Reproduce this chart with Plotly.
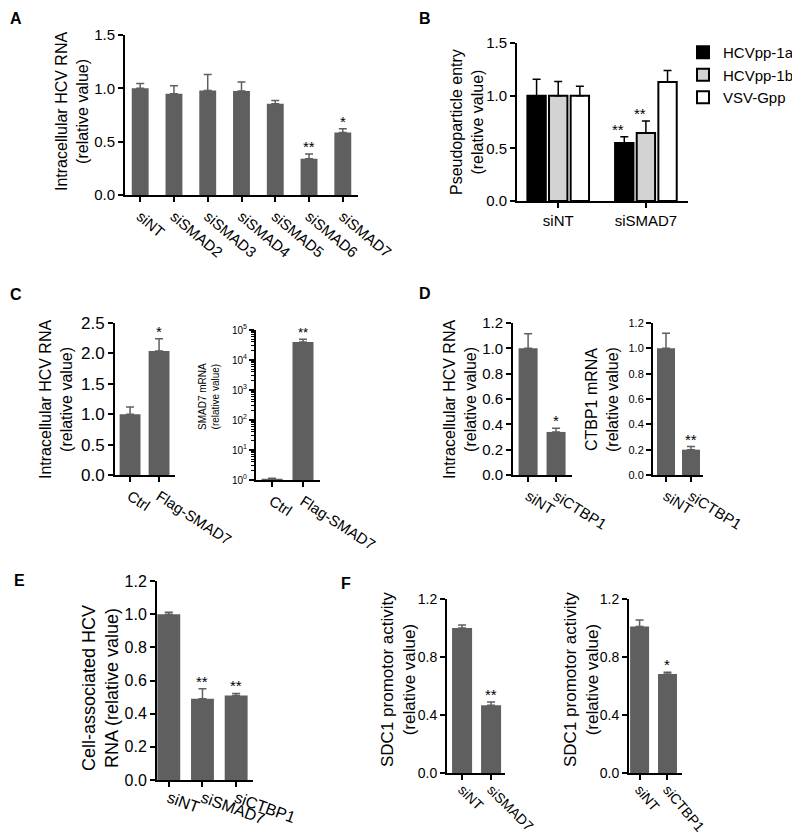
import math
import plotly.graph_objects as go

# page body keeps an 8 px default margin: lay out in screen pixels and
# convert to figure pixels.
OFF = 8
W, H = 800 - OFF, 834 - OFF
FONT = "Arial, Liberation Sans, sans-serif"
GRAY = "#5f5f5f"

# ---------------- data ----------------
cats_A = ["siNT", "siSMAD2", "siSMAD3", "siSMAD4", "siSMAD5", "siSMAD6", "siSMAD7"]
vals_A = [1.00, 0.95, 0.98, 0.975, 0.855, 0.34, 0.585]
err_A = [0.045, 0.075, 0.15, 0.085, 0.03, 0.045, 0.035]
stars_A = ["", "", "", "", "", "**", "*"]

groups_B = ["siNT", "siSMAD7"]
series_B = ["HCVpp-1a", "HCVpp-1b", "VSV-Gpp"]
vals_B_1a = [1.00, 0.55]
err_B_1a = [0.155, 0.06]
vals_B_1b = [1.00, 0.645]
err_B_1b = [0.135, 0.115]
vals_B_vsv = [1.00, 1.13]
err_B_vsv = [0.09, 0.11]
stars_B_1a = ["", "**"]
stars_B_1b = ["", "**"]
stars_B_vsv = ["", ""]

cats_C = ["Ctrl", "Flag-SMAD7"]
vals_C1 = [1.00, 2.04]
err_C1 = [0.12, 0.20]
stars_C1 = ["", "*"]
vals_C2 = [1.1, 40000]
err_C2 = [0.05, 9000]
stars_C2 = ["", "**"]

cats_D = ["siNT", "siCTBP1"]
vals_D1 = [1.00, 0.34]
err_D1 = [0.115, 0.03]
stars_D1 = ["", "*"]
vals_D2 = [1.00, 0.20]
err_D2 = [0.12, 0.025]
stars_D2 = ["", "**"]

cats_E = ["siNT", "siSMAD7", "siCTBP1"]
vals_E = [1.00, 0.49, 0.51]
err_E = [0.012, 0.06, 0.012]
stars_E = ["", "**", "**"]

cats_F1 = ["siNT", "siSMAD7"]
vals_F1 = [1.00, 0.467]
err_F1 = [0.02, 0.023]
stars_F1 = ["", "**"]
cats_F2 = ["siNT", "siCTBP1"]
vals_F2 = [1.01, 0.683]
err_F2 = [0.045, 0.012]
stars_F2 = ["", "*"]

# ---------------- helpers ----------------
fig = go.Figure()
layout = dict(width=W, height=H,
              margin=dict(l=0, r=0, t=0, b=0, pad=0, autoexpand=False),
              paper_bgcolor="white", plot_bgcolor="white",
              font=dict(family=FONT, color="black"),
              showlegend=True, annotations=[], barmode="group")
ann = layout["annotations"]


def fx(x):
    return (x - OFF) / W


def fy(y):
    return 1 - (y - OFF) / H


def px_x(x0, x1):
    return [fx(x0), fx(x1)]


def px_y(ytop, ybot):
    return [fy(ybot), fy(ytop)]


def axes(n, xdom, xrange, ydom, yrange, xfs, yfs, tickangle, ytickvals=None,
         yticktext=None, ytype="linear", yfmt=".1f", minor=None, xstand=0):
    sx = "" if n == 1 else str(n)
    xa = dict(domain=xdom, range=xrange, anchor="y" + sx, showline=True,
              linecolor="black", linewidth=2, ticks="outside", ticklen=5,
              tickwidth=1.5, tickcolor="black", tickangle=tickangle,
              tickfont=dict(size=xfs, family=FONT), showgrid=False,
              zeroline=False, fixedrange=True, automargin=False,
              ticklabelstandoff=xstand)
    ya = dict(domain=ydom, range=yrange, anchor="x" + sx, showline=True,
              linecolor="black", linewidth=2, ticks="outside", ticklen=5,
              tickwidth=1.5, tickcolor="black",
              tickfont=dict(size=yfs, family=FONT), showgrid=False,
              zeroline=False, type=ytype, fixedrange=True, automargin=False)
    if ytickvals is not None:
        ya["tickvals"] = ytickvals
        if yticktext is not None:
            ya["ticktext"] = yticktext
        else:
            ya["tickformat"] = yfmt
    if minor is not None:
        ya["minor"] = minor
    layout["xaxis" + sx] = xa
    layout["yaxis" + sx] = ya


def bars(n, cats, vals, errs, width, color=GRAY, line=None, name=None,
         showlegend=False, errcolor=GRAY, offsetgroup=None):
    sx = "" if n == 1 else str(n)
    kw = {}
    if width is not None:
        kw["width"] = width
    fig.add_trace(go.Bar(
        x=cats, y=vals, name=name, showlegend=showlegend,
        marker=dict(color=color, line=line or dict(width=0)),
        offsetgroup=offsetgroup,
        error_y=dict(type="data", symmetric=False, array=errs,
                     arrayminus=[0] * len(vals), color=errcolor,
                     thickness=1.5, width=4),
        xaxis="x" + sx, yaxis="y" + sx, hoverinfo="skip", **kw))


def stars(n, cats, vals, errs, marks, size=15, xoff=None, xshift=0, log=False):
    sx = "" if n == 1 else str(n)
    for i, (c, v, e, m) in enumerate(zip(cats, vals, errs, marks)):
        if not m:
            continue
        top = v + e
        if log:
            top = math.log10(top)
        ann.append(dict(x=(i + xoff) if xoff is not None else c, y=top,
                        xref="x" + sx, yref="y" + sx, text=m, showarrow=False,
                        yanchor="bottom", xanchor="center", yshift=-3,
                        xshift=xshift,
                        font=dict(size=size, family=FONT, color="black")))


def ytitle(text, xc, yc, size):
    ann.append(dict(x=fx(xc), y=fy(yc), xref="paper", yref="paper",
                    text=text, showarrow=False, textangle=-90,
                    xanchor="center", yanchor="middle",
                    font=dict(size=size, family=FONT, color="black")))


def label(text, x, y):
    ann.append(dict(x=fx(max(x, OFF)), y=fy(max(y, OFF)), xref="paper",
                    yref="paper", text="<b>" + text + "</b>", showarrow=False,
                    xanchor="left", yanchor="top",
                    font=dict(size=16, family=FONT, color="black")))


lin12 = [0, 0.2, 0.4, 0.6, 0.8, 1.0, 1.2]

# ---- A ----
axes(1, px_x(125, 358), [-0.45, 6.45], px_y(35, 195), [0, 1.5], 15, 15, 40,
     ytickvals=[0, 0.5, 1.0, 1.5])
bars(1, cats_A, vals_A, err_A, 0.5)
stars(1, cats_A, vals_A, err_A, stars_A)
ytitle("Intracellular HCV RNA<br>(relative value)", 72, 112, 16)
label("A", 8, 8)

# ---- B ----
bargap_B = 0.26
layout["bargap"] = bargap_B
layout["bargroupgap"] = 0.15
axes(2, px_x(517, 688), [-0.47, 1.48], px_y(43, 201), [0, 1.5], 15, 15, 0,
     ytickvals=[0, 0.5, 1.0, 1.5])
b_vals = [vals_B_1a, vals_B_1b, vals_B_vsv]
b_errs = [err_B_1a, err_B_1b, err_B_vsv]
b_stars = [stars_B_1a, stars_B_1b, stars_B_vsv]
b_cols = ["black", "#d3d3d3", "white"]
for k in range(3):
    bars(2, groups_B, b_vals[k], b_errs[k], None, color=b_cols[k],
         line=dict(color="black", width=2), name=series_B[k],
         showlegend=True, errcolor="black", offsetgroup=str(k))
    stars(2, groups_B, b_vals[k], b_errs[k], b_stars[k],
          xoff=(k - 1) * (1 - bargap_B) / 3, xshift=-6)
ytitle("Pseudoparticle entry<br>(relative value)", 467, 122, 16)
label("B", 417, 8)

# ---- C ----
axes(3, px_x(115, 175), [-0.52, 1.55], px_y(323, 475), [0, 2.5], 15, 17, 33,
     ytickvals=[0, 0.5, 1.0, 1.5, 2.0, 2.5])
bars(3, cats_C, vals_C1, err_C1, 0.72)
stars(3, cats_C, vals_C1, err_C1, stars_C1)
ytitle("Intracellular HCV RNA<br>(relative value)", 56, 400, 16)

axes(4, px_x(256, 320), [-0.52, 1.55], px_y(330, 480), [0, 5], 15, 10, 33,
     ytickvals=[1, 10, 100, 1000, 10000, 100000],
     yticktext=["10<sup>0</sup>", "10<sup>1</sup>", "10<sup>2</sup>",
                "10<sup>3</sup>", "10<sup>4</sup>", "10<sup>5</sup>"],
     ytype="log",
     minor=dict(ticks="outside", ticklen=3, tickwidth=1, tickcolor="black",
                dtick="D1", showgrid=False))
bars(4, cats_C, vals_C2, err_C2, 0.68)
stars(4, cats_C, vals_C2, err_C2, stars_C2, log=True, size=13)
ytitle("SMAD7 mRNA<br>(relative value)", 209, 397, 10)
label("C", 8, 284)

# ---- D ----
axes(5, px_x(513, 572), [-0.54, 1.57], px_y(323, 475), [0, 1.2], 15, 15, 32,
     ytickvals=lin12)
bars(5, cats_D, vals_D1, err_D1, 0.68)
stars(5, cats_D, vals_D1, err_D1, stars_D1)
ytitle("Intracellular HCV RNA<br>(relative value)", 460, 400, 16)

axes(6, px_x(653, 703), [-0.52, 1.48], px_y(323, 475), [0, 1.2], 15, 11, 32,
     ytickvals=lin12)
bars(6, cats_D, vals_D2, err_D2, 0.72)
stars(6, cats_D, vals_D2, err_D2, stars_D2)
ytitle("CTBP1 mRNA<br>(relative value)", 602, 400, 16)
label("D", 417, 283)

# ---- E ----
axes(7, px_x(157, 253), [-0.35, 2.5], px_y(581, 780), [0, 1.2], 16, 16, 20,
     ytickvals=lin12, xstand=-4)
bars(7, cats_E, vals_E, err_E, 0.68)
stars(7, cats_E, vals_E, err_E, stars_E)
ytitle("Cell-associated HCV<br>RNA (relative value)", 100, 688, 18)
label("E", 12, 570)

# ---- F ----
axes(8, px_x(447, 505), [-0.52, 1.48], px_y(599, 773), [0, 1.2], 14, 14, 45,
     ytickvals=[0, 0.4, 0.8, 1.2], xstand=-4)
bars(8, cats_F1, vals_F1, err_F1, 0.69)
stars(8, cats_F1, vals_F1, err_F1, stars_F1)
ytitle("SDC1 promotor activity<br>(relative value)", 398, 680, 17)

axes(9, px_x(629, 682), [-0.38, 1.52], px_y(599, 773), [0, 1.2], 14, 14, 50,
     ytickvals=[0, 0.4, 0.8, 1.2], xstand=-4)
bars(9, cats_F2, vals_F2, err_F2, 0.68)
stars(9, cats_F2, vals_F2, err_F2, stars_F2)
ytitle("SDC1 promotor activity<br>(relative value)", 581, 680, 17)
label("F", 339, 573)

layout["legend"] = dict(x=fx(683), y=fy(36), xanchor="left", yanchor="top",
                        font=dict(size=15, family=FONT), bgcolor="rgba(0,0,0,0)",
                        tracegroupgap=0, itemwidth=30)

fig.update_layout(**layout)
fig.write_html("out.html")
